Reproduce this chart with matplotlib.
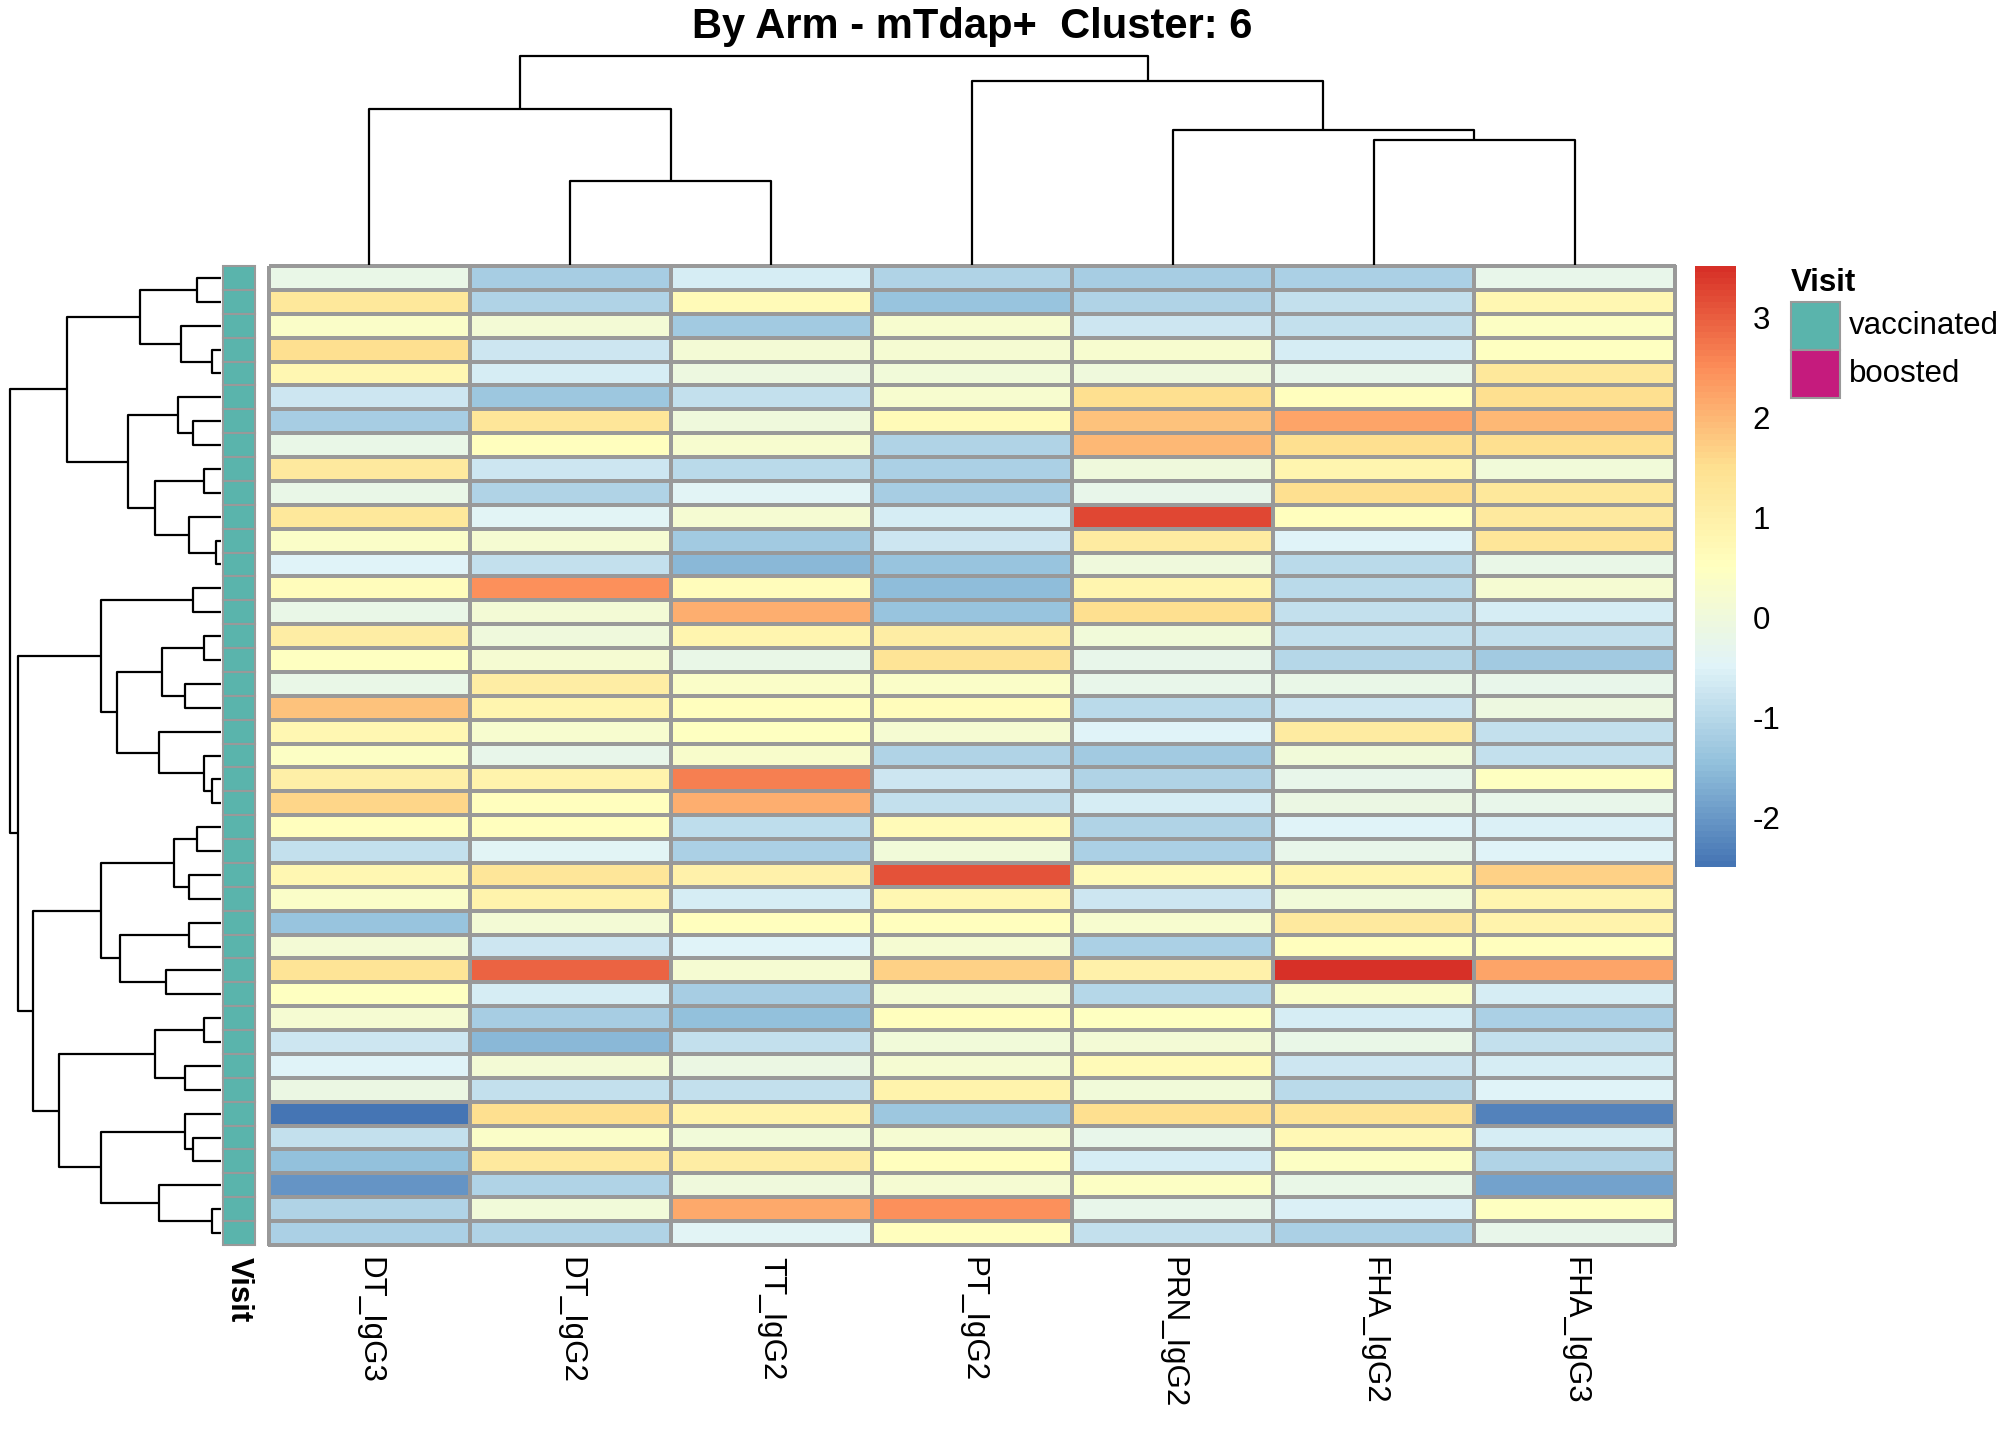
import numpy as np
import matplotlib
matplotlib.use("Agg")
import matplotlib.pyplot as plt
from matplotlib.colors import LinearSegmentedColormap, Normalize
from matplotlib.cm import ScalarMappable
from matplotlib.patches import Rectangle

plt.rcParams['font.family'] = ['Liberation Sans', 'DejaVu Sans']
plt.rcParams['axes.unicode_minus'] = False

# column order as drawn (after clustering)
features = ["DT_IgG3", "DT_IgG2", "TT_IgG2", "PT_IgG2", "PRN_IgG2", "FHA_IgG2", "FHA_IgG3"]

# scaled values, one list per column, rows top to bottom
DT_IgG3 = [-0.2, 1.25, 0.35, 1.5, 0.8, -0.75, -1.2, -0.2, 1.2, -0.2, 1.25, 0.35, -0.5, 0.6,
           -0.2, 1.1, 0.5, -0.2, 1.85, 0.8, 0.4, 1.0, 1.6, 0.55, -0.85, 0.8, 0.35, -1.4,
           0.1, 1.35, 0.45, 0.2, -0.7, -0.5, -0.1, -2.49, -0.85, -1.45, -2.05, -1.1, -1.15]
DT_IgG2 = [-1.2, -1.1, 0.1, -0.7, -0.6, -1.3, 1.3, 0.55, -0.7, -1.1, -0.45, 0.2, -0.85, 2.45,
           0.1, 0.0, 0.2, 1.1, 0.85, 0.25, -0.25, 0.9, 0.55, 0.55, -0.45, 1.3, 0.9, 0.1,
           -0.7, 2.95, -0.6, -1.2, -1.55, 0.1, -0.85, 1.5, 0.35, 1.2, -1.1, 0.05, -1.1]
TT_IgG2 = [-0.6, 0.65, -1.25, 0.1, -0.05, -0.85, 0.0, 0.25, -0.95, -0.45, 0.2, -1.25, -1.55, 0.6,
           2.1, 0.85, -0.2, 0.35, 0.55, 0.45, 0.3, 2.65, 2.1, -0.9, -1.15, 0.95, -0.6, 0.55,
           -0.5, 0.2, -1.2, -1.45, -0.85, -0.1, -0.85, 0.9, 0.05, 1.1, 0.0, 2.15, -0.45]
PT_IgG2 = [-1.1, -1.4, 0.25, 0.15, 0.05, 0.25, 0.65, -1.1, -1.15, -1.2, -0.6, -0.75, -1.4, -1.5,
           -1.4, 1.1, 1.35, 0.35, 0.6, 0.2, -1.1, -0.7, -0.85, 0.65, 0.05, 3.1, 0.8, 0.55,
           0.15, 1.7, 0.2, 0.55, 0.05, 0.15, 0.9, -1.3, 0.15, 0.55, 0.2, 2.45, 0.55]
PRN_IgG2 = [-1.2, -1.1, -0.7, 0.25, 0.0, 1.5, 1.85, 2.0, 0.0, -0.25, 3.25, 1.15, 0.0, 0.85,
            1.5, 0.05, -0.25, -0.25, -0.95, -0.5, -1.25, -1.1, -0.6, -1.1, -1.15, 0.65, -0.75, 0.25,
            -1.15, 0.95, -1.05, 0.5, 0.1, 0.65, 0.05, 1.5, -0.25, -0.6, 0.4, -0.25, -0.85]
FHA_IgG2 = [-1.15, -0.85, -0.85, -0.6, -0.25, 0.55, 2.2, 1.5, 0.85, 1.5, 0.55, -0.5, -0.95, -0.95,
            -0.85, -0.85, -1.05, -0.2, -0.7, 1.15, 0.05, -0.25, -0.1, -0.5, -0.25, 0.85, 0.05, 1.2,
            0.55, 3.51, 0.35, -0.6, -0.2, -0.7, -0.95, 1.4, 0.7, 0.4, -0.2, -0.55, -1.15]
FHA_IgG3 = [-0.25, 0.8, 0.4, 0.45, 1.25, 1.5, 2.0, 1.5, 0.05, 1.25, 1.2, 1.3, -0.2, 0.15,
            -0.6, -0.85, -1.25, -0.25, -0.05, -0.85, -0.85, 0.5, -0.25, -0.55, -0.5, 1.7, 0.85, 0.9,
            0.55, 2.2, -0.6, -1.15, -0.85, -0.6, -0.5, -2.3, -0.6, -1.1, -1.85, 0.5, -0.25]

visit = ["vaccinated"] * 41
visit_levels = ["vaccinated", "boosted"]
visit_colors = {"vaccinated": "#5AB4AC", "boosted": "#C51B7D"}

# dendrograms as (height, left, right); leaves are row/column positions
row_tree = (633,
            (461,
             (243, (71, 0, 1), (120, 2, (27, 3, 4))),
             (279, (128, 5, (84, 6, 7)), (198, (51, 8, 9), (96, 10, (15, 11, 12))))),
            (610,
             (360, (84, 13, 14),
              (312, (176, (51, 15, 16), (108, 17, 18)), (186, 19, (51, 20, (27, 21, 22))))),
             (565,
              (360, (141, (71, 23, 24), (96, 25, 26)), (303, (96, 27, 28), (165, 29, 30))),
              (485, (198, (51, 31, 32), (108, 33, 34)),
               (360, (108, 35, (84, 36, 37)), (186, 38, (27, 39, 40)))))))
col_tree = (626, (468, 0, (251, 1, 2)), (552, 3, (405, 4, (374, 5, 6))))

vmin, vmax = -2.49, 3.51
cbar_ticks = [-2, -1, 0, 1, 2, 3]

data = np.column_stack([DT_IgG3, DT_IgG2, TT_IgG2, PT_IgG2, PRN_IgG2, FHA_IgG2, FHA_IgG3])
n_rows, n_cols = data.shape

pal = ["#4575B4", "#91BFDB", "#E0F3F8", "#FFFFBF", "#FEE090", "#FC8D59", "#D73027"]
cmap = LinearSegmentedColormap.from_list("rdylbu", pal, N=100)
norm = Normalize(vmin=vmin, vmax=vmax)

W, H = 2016, 1440
fig = plt.figure(figsize=(W / 100, H / 100), dpi=100)


def px_axes(x0, y0, x1, y1):
    ax = fig.add_axes([x0 / W, 1 - y1 / H, (x1 - x0) / W, (y1 - y0) / H])
    ax.set_axis_off()
    return ax


def draw_tree(ax, node, side):
    if isinstance(node, int):
        return node + 0.5, 0
    h, left, right = node
    p1, h1 = draw_tree(ax, left, side)
    p2, h2 = draw_tree(ax, right, side)
    if side == "top":
        ax.plot([p1, p1, p2, p2], [h1, h, h, h2], color="black", lw=1.6, clip_on=False,
                solid_capstyle="butt")
    else:
        ax.plot([h1, h, h, h2], [p1, p1, p2, p2], color="black", lw=1.6, clip_on=False,
                solid_capstyle="butt")
    return (p1 + p2) / 2, h


grid_col = "#999999"
hx0, hy0, hx1, hy1 = 269, 266, 1675, 1245

# heatmap
ax = px_axes(hx0, hy0, hx1, hy1)
mesh = ax.pcolormesh(np.arange(n_cols + 1), np.arange(n_rows + 1), data, cmap=cmap, norm=norm,
                     edgecolors=grid_col, linewidth=1.5)
mesh.set_clip_on(False)
ax.set_xlim(0, n_cols)
ax.set_ylim(n_rows, 0)

# annotation column
ax_ann = px_axes(223, hy0, 255, hy1)
for i, v in enumerate(visit):
    ax_ann.add_patch(Rectangle((0, i), 1, 1, facecolor=visit_colors[v], edgecolor=grid_col,
                               lw=1.5, clip_on=False))
ax_ann.set_xlim(0, 1)
ax_ann.set_ylim(n_rows, 0)

# row dendrogram
ax_rd = px_axes(10, hy0, 221, hy1)
draw_tree(ax_rd, row_tree, "left")
ax_rd.set_xlim(row_tree[0], 0)
ax_rd.set_ylim(n_rows, 0)

# column dendrogram
ax_cd = px_axes(hx0, 56, hx1, 265)
draw_tree(ax_cd, col_tree, "top")
ax_cd.set_xlim(0, n_cols)
ax_cd.set_ylim(0, col_tree[0])

# title
fig.text((hx0 + hx1) / 2 / W, 1 - 38 / H, "By Arm - mTdap+  Cluster: 6", ha="center",
         va="baseline", fontsize=30, fontweight="bold")

# column labels
cw = (hx1 - hx0) / n_cols
for j, name in enumerate(features):
    fig.text((hx0 + cw * (j + 0.5)) / W, 1 - 1257 / H, name, rotation=270, ha="center",
             va="top", fontsize=22.5)
fig.text(239 / W, 1 - 1257 / H, "Visit", rotation=270, ha="center", va="top", fontsize=22.5,
         fontweight="bold")

# colour bar
cax = fig.add_axes([1695 / W, 1 - 867 / H, 41 / W, 601 / H])
cb = fig.colorbar(ScalarMappable(norm=norm, cmap=cmap), cax=cax, ticks=cbar_ticks)
cb.outline.set_visible(False)
cax.tick_params(length=0, pad=12, labelsize=22.5)

# annotation legend
fig.text(1791 / W, 1 - 291 / H, "Visit", ha="left", va="baseline", fontsize=22.5,
         fontweight="bold")
ax_lg = px_axes(1791, 302, 1840, 398)
for k, lev in enumerate(visit_levels):
    ax_lg.add_patch(Rectangle((0, k), 1, 1, facecolor=visit_colors[lev], edgecolor=grid_col,
                              lw=1.5, clip_on=False))
    fig.text(1849 / W, 1 - (326 + 48 * k) / H, lev, ha="left", va="center", fontsize=22.5)
ax_lg.set_xlim(0, 1)
ax_lg.set_ylim(2, 0)

fig.savefig("out.png", dpi=100)
